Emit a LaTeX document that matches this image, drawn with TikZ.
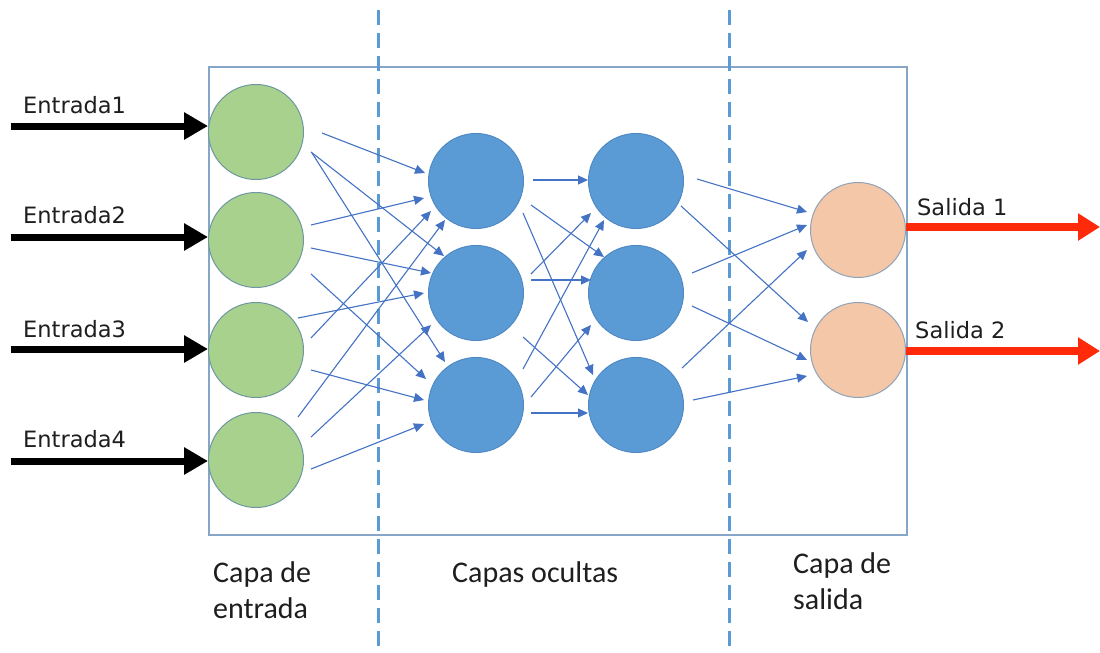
\documentclass[tikz,border=0pt]{standalone}
\usepackage{fontspec}
\usetikzlibrary{arrows.meta,calc}
\newfontfamily\labfont{DejaVu Sans}
\newfontfamily\capfont{Carlito}
\definecolor{gfill}{HTML}{A9D18E}
\definecolor{gedge}{HTML}{6F97A0}
\definecolor{bfill}{HTML}{5B9BD5}
\definecolor{bedge}{HTML}{4F8AC6}
\definecolor{pfill}{HTML}{F4C7A8}
\definecolor{pedge}{HTML}{8FA3B8}
\definecolor{conncol}{HTML}{4472C4}
\definecolor{boxcol}{HTML}{86A6C8}
\definecolor{dashcol}{HTML}{5B9BD5}
\definecolor{redarrow}{HTML}{FF2A0A}
\definecolor{textcol}{HTML}{1E1E1E}
\tikzset{
  neuron/.style={circle, minimum size=95pt, inner sep=0pt, line width=1pt},
  inneuron/.style={neuron, fill=gfill, draw=gedge},
  hidneuron/.style={neuron, fill=bfill, draw=bedge},
  outneuron/.style={neuron, fill=pfill, draw=pedge},
  conn/.style={draw=conncol, line width=1.1pt, -{Triangle[length=10pt,width=9pt]}},
  inarrow/.style={draw=black, line width=7pt, -{Triangle[length=24pt,width=26pt]}},
  outarrow/.style={draw=redarrow, line width=8pt, -{Triangle[length=22pt,width=26pt]}},
  boxline/.style={draw=boxcol, line width=1.3pt},
  dashline/.style={draw=dashcol, line width=3pt, dash pattern=on 15pt off 8pt},
  sidelab/.style={font=\labfont\fontsize{22.5}{27}\selectfont, text=textcol, inner sep=0pt, anchor=base west},
  caplab/.style={font=\capfont\fontsize{30}{36}\selectfont, text=textcol, inner sep=0pt, anchor=base west, align=left},
}
\begin{document}
\begin{tikzpicture}[x=1pt,y=-1pt]
\useasboundingbox (0,0) rectangle (1100,653);
\fill[white] (0,0) rectangle (1100,653);
% frame
\draw[boxline] (209,67) rectangle (907,535);
% dashed separators
\draw[dashline] (378,10) -- (378,653);
\draw[dashline] (729,10) -- (729,653);
% neurons
\node[inneuron] (i1) at (256,132) {};
\node[inneuron] (i2) at (256,240) {};
\node[inneuron] (i3) at (256,350) {};
\node[inneuron] (i4) at (256,460) {};
\node[hidneuron] (h1) at (476,181) {};
\node[hidneuron] (h2) at (476,293) {};
\node[hidneuron] (h3) at (476,405) {};
\node[hidneuron] (g1) at (636,181) {};
\node[hidneuron] (g2) at (636,293) {};
\node[hidneuron] (g3) at (636,405) {};
\node[outneuron] (o1) at (858,230) {};
\node[outneuron] (o2) at (858,350) {};
% input -> hidden 1
\draw[conn] ($(i1)+(66,1)$) -- ($(h1)+(-51,-8)$);
\draw[conn] ($(i1)+(55,20)$) -- ($(h2)+(-32,-37)$);
\draw[conn] ($(i1)+(56,21)$) -- ($(h3)+(-31,-43)$);
\draw[conn] ($(i2)+(55,-15)$) -- ($(h1)+(-52,17)$);
\draw[conn] ($(i2)+(55,8)$) -- ($(h2)+(-45,-20)$);
\draw[conn] ($(i2)+(55,34)$) -- ($(h3)+(-50,-26)$);
\draw[conn] ($(i3)+(42,-32)$) -- ($(h2)+(-52,0)$);
\draw[conn] ($(i3)+(55,-12)$) -- ($(h1)+(-45,30)$);
\draw[conn] ($(i3)+(55,20)$) -- ($(h3)+(-52,-5)$);
\draw[conn] ($(i4)+(42,-43)$) -- ($(h1)+(-31,39)$);
\draw[conn] ($(i4)+(55,-23)$) -- ($(h2)+(-45,32)$);
\draw[conn] ($(i4)+(55,9)$) -- ($(h3)+(-52,19)$);
% hidden 1 -> hidden 2
\draw[conn] ($(h1)+(57,-1)$) -- ($(g1)+(-48,-1)$);
\draw[conn] ($(h1)+(55,24)$) -- ($(g2)+(-32,-36)$);
\draw[conn] ($(h1)+(47,32)$) -- ($(g3)+(-43,-30)$);
\draw[conn] ($(h2)+(55,-19)$) -- ($(g1)+(-45,32)$);
\draw[conn] ($(h2)+(55,-13)$) -- ($(g2)+(-45,-13)$);
\draw[conn] ($(h2)+(47,44)$) -- ($(g3)+(-48,-10)$);
\draw[conn] ($(h3)+(47,-36)$) -- ($(g1)+(-32,39)$);
\draw[conn] ($(h3)+(55,-8)$) -- ($(g2)+(-45,32)$);
\draw[conn] ($(h3)+(55,8)$) -- ($(g3)+(-48,8)$);
% hidden 2 -> output
\draw[conn] ($(g1)+(61,-2)$) -- ($(o1)+(-51,-18)$);
\draw[conn] ($(g1)+(45,25)$) -- ($(o2)+(-50,-28)$);
\draw[conn] ($(g2)+(56,-20)$) -- ($(o1)+(-51,-5)$);
\draw[conn] ($(g2)+(56,13)$) -- ($(o2)+(-51,10)$);
\draw[conn] ($(g3)+(46,-37)$) -- ($(o1)+(-51,20)$);
\draw[conn] ($(g3)+(57,-5)$) -- ($(o2)+(-51,26)$);
% input arrows
\coordinate (s1) at (11,126);
\coordinate (s2) at (11,237);
\coordinate (s3) at (11,349);
\coordinate (s4) at (11,461);
\draw[inarrow] (s1) -- (s1 -| i1.west);
\draw[inarrow] (s2) -- (s2 -| i2.west);
\draw[inarrow] (s3) -- (s3 -| i3.west);
\draw[inarrow] (s4) -- (s4 -| i4.west);
\node[sidelab] (l1) at (23,113) {Entrada1};
\node[sidelab] (l2) at (23,223) {Entrada2};
\node[sidelab] (l3) at (23,337) {Entrada3};
\node[sidelab] (l4) at (23,447) {Entrada4};
% output arrows
\coordinate (e1) at (1100,227);
\coordinate (e2) at (1100,351);
\draw[outarrow] (e1 -| o1.east) -- (e1);
\draw[outarrow] (e2 -| o2.east) -- (e2);
\node[sidelab] (m1) at (917,215) {Salida 1};
\node[sidelab] (m2) at (915,338) {Salida 2};
% layer captions (base anchor = last line's baseline)
\node[caplab] (c1) at (213,618) {Capa de\\entrada};
\node[caplab] (c2) at (452,582) {Capas ocultas};
\node[caplab] (c3) at (793,609) {Capa de\\salida};
\end{tikzpicture}
\end{document}
